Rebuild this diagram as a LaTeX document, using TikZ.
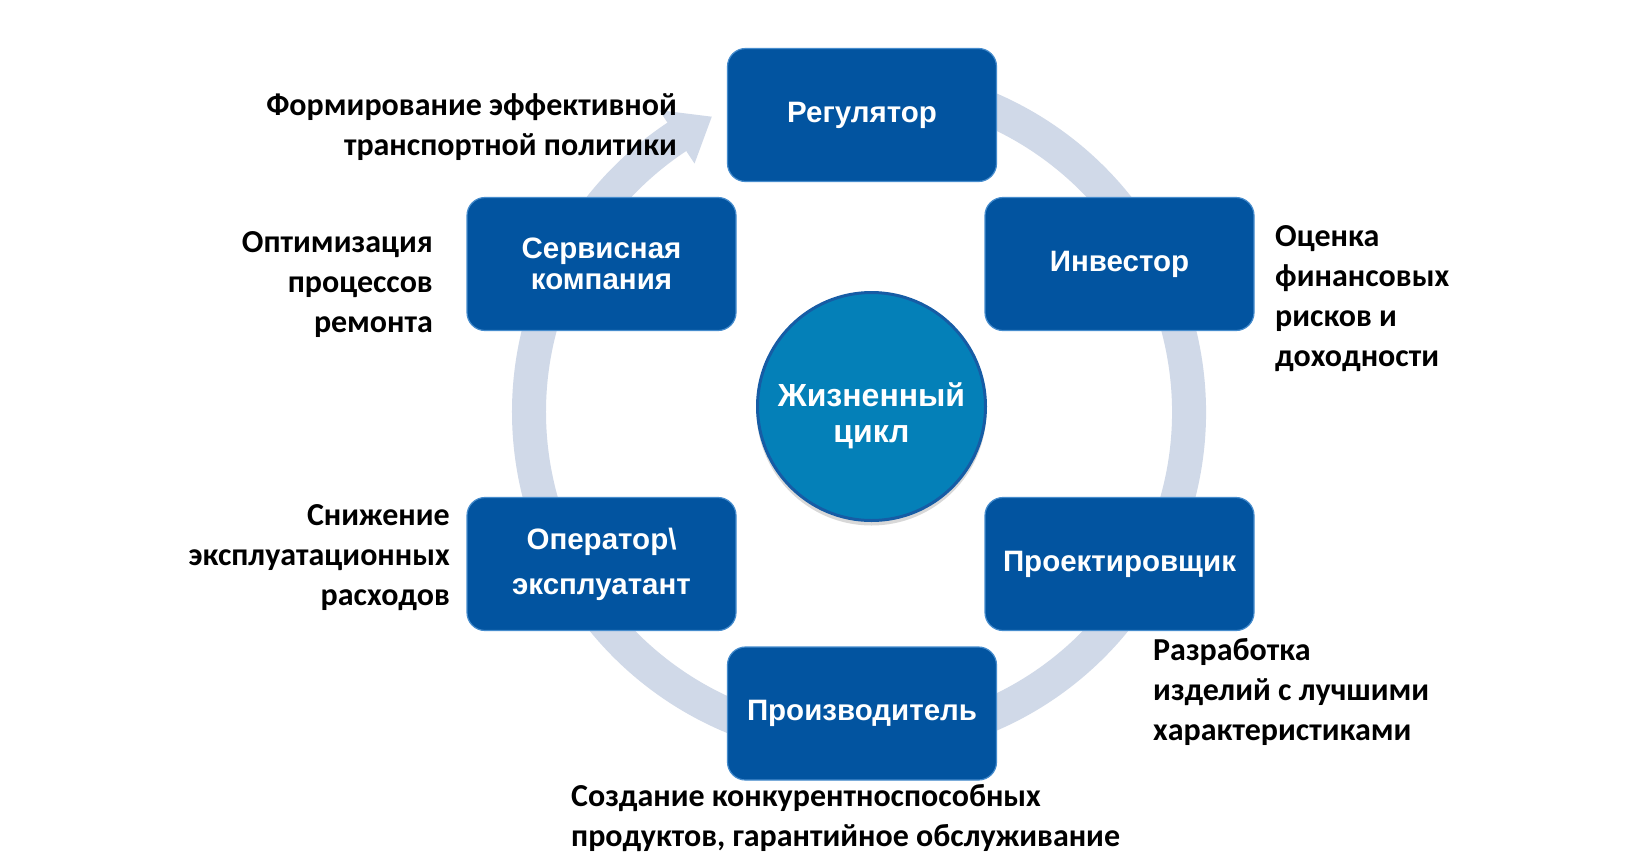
\documentclass[tikz,border=0pt]{standalone}
\usepackage{fontspec}
\setmainfont{Carlito}
\newfontfamily\boxfont{Liberation Sans}
\usetikzlibrary{calc}
\definecolor{boxblue}{RGB}{2,84,160}
\definecolor{boxedge}{RGB}{70,140,205}
\definecolor{circfill}{RGB}{4,128,184}
\definecolor{circedge}{RGB}{22,92,165}
\definecolor{ringcol}{RGB}{208,217,232}
\begin{document}
\begin{tikzpicture}[x=1pt,y=1pt,
  role/.style={draw=boxedge, line width=1.2pt, fill=boxblue, rounded corners=18pt,
    minimum width=269pt, minimum height=133pt, text=white,
    font=\boxfont\bfseries\fontsize{29.5}{31}\selectfont, align=center, inner sep=0pt},
  life/.style={circle, draw=circedge, line width=3pt, fill=circfill, minimum size=228pt, inner sep=0pt},
  lifetext/.style={text=white, font=\boxfont\bfseries\fontsize{32}{36}\selectfont, align=center, inner sep=0pt},
  note/.style={font=\bfseries\fontsize{32}{40}\selectfont, inner sep=0pt, text=black},
  ring/.style={ringcol, line width=34pt}
]
\useasboundingbox (0,0) rectangle (1629,-860);
\fill[white] (0,0) rectangle (1629,-860);
\coordinate (C) at (859,-412);
% ring with arrow
\draw[ring] ($(C)+(100:330)$) arc[start angle=100, end angle=-237, radius=330];
\fill[ringcol] ($(C)+(123.5:362)$) -- ($(C)+(116.5:330)$) -- ($(C)+(123.5:298)$) -- cycle;
% roles
\node[role] (reg) at (862,-115) {Регулятор};
\node[role] (serv) at (601.5,-264) {Сервисная\\компания};
\node[role] (inv) at (1119.5,-264) {Инвестор};
\node[role] (op) at (601.5,-564) {Оператор\textbackslash\\[14pt]эксплуатант};
\node[role] (proj) at (1119.5,-564) {Проектировщик};
\node[role] (prod) at (862,-713.5) {Производитель};
% centre
\fill[black!25, opacity=0.6] (871.5,-410.5) circle[radius=115];
\node[life] (cycle) at (871.5,-406.5) {};
\node[lifetext] (cycletext) at ([yshift=-9pt]cycle.center) {Жизненный\\цикл};
% notes
\node[note, anchor=east, align=right] (n1) at (677,-127.5) {Формирование эффективной\\транспортной политики};
\node[note, anchor=east, align=right] (n2) at (433,-285) {Оптимизация\\процессов\\ремонта};
\node[note, anchor=west, align=left] (n3) at (1275,-299) {Оценка\\финансовых\\рисков и\\доходности};
\node[note, anchor=east, align=right] (n4) at (450,-558) {Снижение\\эксплуатационных\\расходов};
\node[note, anchor=west, align=left] (n5) at (1153,-692) {Разработка\\изделий с лучшими\\характеристиками};
\node[note, anchor=west, align=left] (n6) at (571,-818) {Создание конкурентноспособных\\продуктов, гарантийное обслуживание};
\end{tikzpicture}
\end{document}
